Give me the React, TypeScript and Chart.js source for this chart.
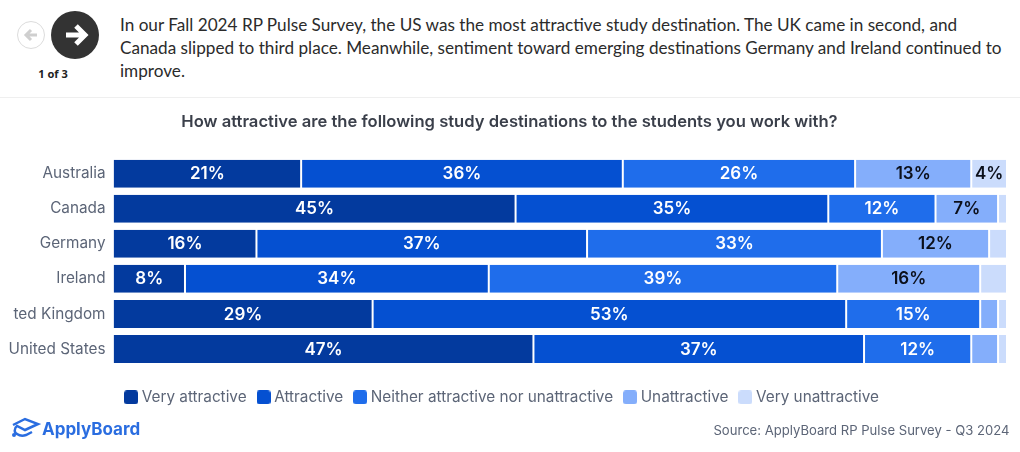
import React, { useEffect, useRef } from "react";
import { Chart, registerables } from "chart.js";

Chart.register(...registerables);

const categories = ["Australia", "Canada", "Germany", "Ireland", "ted Kingdom", "United States"];
const veryAttractive = [21, 45, 16, 8, 29, 47];
const attractive = [36, 35, 37, 34, 53, 37];
const neither = [26, 12, 33, 39, 15, 12];
const unattractive = [13, 7, 12, 16, 2, 3];
const veryUnattractive = [4, 1, 2, 3, 1, 1];
const seriesNames = ["Very attractive", "Attractive", "Neither attractive nor unattractive", "Unattractive", "Very unattractive"];
const seriesValues = [veryAttractive, attractive, neither, unattractive, veryUnattractive];
const seriesColors = ["#033a9e", "#0550d1", "#1f6deb", "#84aefb", "#cbdcfc"];
const labelColors = ["#ffffff", "#ffffff", "#ffffff", "#0b0f1a", "#0b0f1a"];
const MIN_LABEL = 4;

const CHART_FONT = "Inter, sans-serif";

function swatch(color: string) {
  const c = document.createElement("canvas");
  c.width = 14;
  c.height = 14;
  const g = c.getContext("2d")!;
  g.fillStyle = color;
  g.beginPath();
  g.roundRect(0, 0, 14, 14, 3);
  g.fill();
  return c;
}

const barLabels = {
  id: "barLabels",
  afterDatasetsDraw(chart: any) {
    const ctx = chart.ctx;
    ctx.save();
    ctx.textAlign = "center";
    ctx.textBaseline = "middle";
    ctx.font = `600 17px ${CHART_FONT}`;
    chart.data.datasets.forEach((ds: any, i: number) => {
      const meta = chart.getDatasetMeta(i);
      meta.data.forEach((el: any, j: number) => {
        const v = ds.data[j];
        if (v < MIN_LABEL) return;
        ctx.fillStyle = labelColors[i];
        ctx.fillText(`${v}%`, (el.base + el.x) / 2, el.y + 0.5);
      });
    });
    ctx.restore();
  },
};

const centerTitle = {
  id: "centerTitle",
  afterLayout(chart: any) {
    if (chart.titleBlock) {
      chart.titleBlock.left = 0;
      chart.titleBlock.right = 1019;
    }
  },
};

export default function App() {
  const ref = useRef<HTMLCanvasElement>(null);
  useEffect(() => {
    document.body.style.margin = "0";
    const chart = new Chart(ref.current!, {
      type: "bar",
      data: {
        labels: categories,
        datasets: seriesNames.map((name, i) => ({
          label: name,
          data: seriesValues[i],
          backgroundColor: seriesColors[i],
          borderColor: "#ffffff",
          borderWidth: { left: i === 0 ? 0 : 1, right: 1, top: 0, bottom: 0 },
          borderSkipped: false,
          barPercentage: 0.8,
          categoryPercentage: 1,
        })),
      },
      options: {
        indexAxis: "y",
        animation: false,
        responsive: false,
        layout: { padding: { left: 0, right: 13, top: 14.5, bottom: 37 } },
        scales: {
          x: { stacked: true, display: false, min: 0, max: 100 },
          y: {
            stacked: true,
            grid: { display: false, tickLength: 0 },
            border: { display: false },
            ticks: { color: "#5c6577", font: { family: CHART_FONT, size: 15.3 }, padding: 8 },
            afterFit(axis: any) {
              axis.width = 113.5;
            },
          },
        },
        plugins: {
          title: {
            display: true,
            text: "How attractive are the following study destinations to the students you work with?",
            color: "#3a3f4a",
            font: { family: CHART_FONT, size: 16.6, weight: "600" },
            padding: { top: 0, bottom: 23.7 },
          },
          legend: {
            position: "bottom",
            title: { display: true, text: "", font: { size: 1 }, padding: 4 },
            labels: {
              usePointStyle: true,
              pointStyleWidth: 6,
              boxHeight: 14,
              color: "#5c6577",
              font: { family: CHART_FONT, size: 15.3 },
              padding: 14,
              generateLabels: () =>
                seriesNames.map((name, i) => ({
                  text: name,
                  fontColor: "#5c6577",
                  pointStyle: swatch(seriesColors[i]),
                  fillStyle: seriesColors[i],
                  strokeStyle: seriesColors[i],
                  lineWidth: 0,
                  datasetIndex: i,
                })),
            },
          },
          tooltip: { enabled: false },
        },
      },
      plugins: [barLabels, centerTitle],
    } as any);
    return () => chart.destroy();
  }, []);

  return (
    <div style={{ position: "relative", width: 1020, height: 452, background: "#fff", overflow: "hidden" }}>
      <svg width={110} height={90} style={{ position: "absolute", left: 0, top: 0 }}>
        <circle cx={31} cy={35} r={13.5} fill="#fff" stroke="#dcdcdc" />
        <path d="M37 35H27M31 30l-5 5 5 5" fill="none" stroke="#cfcfcf" strokeWidth={3} />
        <circle cx={75} cy={35} r={24} fill="#333333" />
        <path d="M66 35H83M76 26l9 9-9 9" fill="none" stroke="#ffffff" strokeWidth={5} />
      </svg>
      <div style={{ position: "absolute", left: 23, width: 60, top: 66, textAlign: "center", font: "700 11px/16px 'Noto Sans', sans-serif", color: "#222" }}>
        1 of 3
      </div>
      <div style={{ position: "absolute", left: 120, top: 13, whiteSpace: "nowrap", font: "400 17.17px/23px Lato, sans-serif", color: "#2b2b2b" }}>
        In our Fall 2024 RP Pulse Survey, the US was the most attractive study destination. The UK came in second, and
        <br />
        Canada slipped to third place. Meanwhile, sentiment toward emerging destinations Germany and Ireland continued to
        <br />
        improve.
      </div>
      <div style={{ position: "absolute", left: 0, top: 97, width: 1020, height: 1, background: "#efefef" }} />
      <canvas ref={ref} width={1020} height={354} style={{ position: "absolute", left: 0, top: 98, display: "block" }} />
      <svg width={32} height={26} style={{ position: "absolute", left: 10, top: 416 }} viewBox="0 0 32 26">
        <path d="M3 9L15 3l13 5-13 6-8-4c-3 2-3 7 0 8 3 2 6 2 9 1l6-3" fill="none" stroke="#2a6de0" strokeWidth={2.5} />
        <circle cx={4} cy={19} r={2} fill="#2a6de0" />
      </svg>
      <div style={{ position: "absolute", left: 42, top: 417, font: "700 17px/24px Inter, sans-serif", color: "#2a6de0" }}>ApplyBoard</div>
      <div style={{ position: "absolute", right: 10.5, top: 421, font: "400 13.1px/18px Inter, sans-serif", color: "#5c6577" }}>
        Source: ApplyBoard RP Pulse Survey - Q3 2024
      </div>
    </div>
  );
}
